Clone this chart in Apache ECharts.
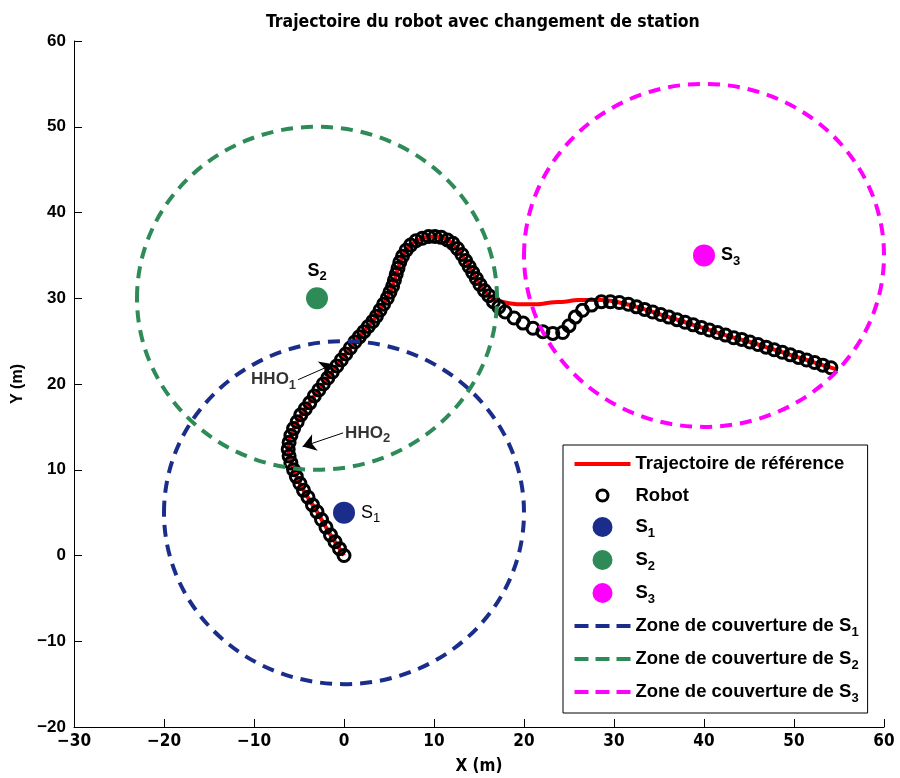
<!DOCTYPE html>
<html>
<head>
<meta charset="utf-8">
<script src="https://cdn.jsdelivr.net/npm/echarts@6/dist/echarts.min.js"></script>
<style>
  html, body { margin: 0; padding: 0; background: #fff; }
  #chart { width: 900px; height: 778px; }
</style>
</head>
<body>
<div id="chart"></div>
<script>
// trajectoire de référence (x, y en m)
const refPath = [[0,0],[-1.5,2.4],[-3.0,5.1],[-4.5,7.6],[-5.6,10.0],[-6.2,12.4],[-5.9,14.0],[-5.2,15.6],
  [-4.3,17.1],[-3.3,18.6],[-2.3,20.0],[-1.3,21.4],[-0.3,22.8],[0.7,24.2],[1.7,25.5],[2.7,26.7],[3.6,27.9],
  [4.4,29.3],[5.1,30.7],[5.6,32.1],[6.0,33.5],[6.5,34.9],[7.4,36.2],[8.7,37.0],[10.1,37.2],[11.5,36.8],
  [12.6,35.8],[13.5,34.4],[14.3,33.0],[15.1,31.6],[16.1,30.3],[17.2,29.7],[18.5,29.4],[20.0,29.3],[21.5,29.3],
  [23.0,29.5],[24.5,29.6],[26.0,29.8],[27.5,29.8],[28.6,29.8],[29.6,29.7],[30.6,29.5],[32.5,29.0],[34.3,28.4],
  [36.1,27.8],[37.9,27.2],[39.7,26.6],[41.5,26.0],[43.3,25.4],[45.1,24.9],[46.9,24.3],[48.7,23.7],[50.5,23.1],
  [52.3,22.5],[54.1,21.9],[54.7,21.7]];

// positions mesurées du robot
const robotPath = [[0,0],[-0.5,0.8],[-1.0,1.6],[-1.5,2.4],[-2.0,3.3],[-2.5,4.2],[-3.0,5.1],[-3.5,5.9],
  [-4.0,6.8],[-4.5,7.6],[-4.9,8.4],[-5.3,9.2],[-5.6,10.0],[-5.9,10.8],[-6.1,11.6],[-6.2,12.4],
  [-6.1,13.2],[-5.9,14.0],[-5.6,14.8],[-5.2,15.6],[-4.8,16.4],[-4.3,17.1],[-3.8,17.8],[-3.3,18.6],
  [-2.8,19.3],[-2.3,20.0],[-1.8,20.7],[-1.3,21.4],[-0.8,22.1],[-0.3,22.8],[0.2,23.5],[0.7,24.2],
  [1.2,24.9],[1.7,25.5],[2.2,26.1],[2.7,26.7],[3.2,27.3],[3.6,27.9],[4.0,28.6],[4.4,29.3],[4.8,30.0],
  [5.1,30.7],[5.4,31.4],[5.6,32.1],[5.8,32.8],[6.0,33.5],[6.2,34.2],[6.5,34.9],[6.9,35.6],[7.4,36.2],
  [8.0,36.7],[8.7,37.0],[9.4,37.2],[10.1,37.2],[10.8,37.1],[11.5,36.8],[12.1,36.4],[12.6,35.8],
  [13.1,35.1],[13.5,34.4],[13.9,33.7],[14.3,33.0],[14.7,32.3],[15.1,31.6],[15.6,30.9],[16.1,30.3],
  [16.6,29.6],[17.2,29.0],[17.9,28.4],[18.9,27.7],[19.9,27.1],[21.0,26.5],[22.1,26.1],[23.2,25.9],
  [24.3,26.0],[25.0,26.8],[25.7,27.8],[26.5,28.6],[27.5,29.2],[28.6,29.6],[29.6,29.6],[30.6,29.5],
  [31.6,29.3],[32.5,29.0],[33.4,28.7],[34.3,28.4],[35.2,28.1],[36.1,27.8],[37.0,27.5],[37.9,27.2],
  [38.8,26.9],[39.7,26.6],[40.6,26.3],[41.5,26.0],[42.4,25.7],[43.3,25.4],[44.2,25.2],[45.1,24.9],
  [46.0,24.6],[46.9,24.3],[47.8,24.0],[48.7,23.7],[49.6,23.4],[50.5,23.1],[51.4,22.8],[52.3,22.5],
  [53.2,22.2],[54.1,21.9]];

// stations et zones de couverture
const stationNames = ['S1', 'S2', 'S3'];
const stationX = [0, -3, 40];
const stationY = [5, 30, 35];
const coverRadius = [20, 20, 20];
const stationColors = ['#1b2d8a', '#2e8b57', '#ff00ff'];

// flèches HHO : [début, fin]
const hho1 = [[-5.1, 20.5], [-1.2, 22.3]];
const hho2 = [[-0.1, 14.3], [-4.6, 12.7]];

const narrow = "'Liberation Sans Narrow', 'DejaVu Sans Condensed', Arial, sans-serif";
const wide = "'Liberation Sans', Arial, sans-serif";

function subName(name) {
  return name.replace(/S(\d)$/, 'S{sub|$1}');
}
function minus(v) {
  return v < 0 ? '\u2212' + Math.abs(v) : String(v);
}

const chart = echarts.init(document.getElementById('chart'));

let series = [];
series.push({
  name: 'Trajectoire de référence',
  type: 'line',
  data: refPath,
  showSymbol: false,
  smooth: 0.3,
  lineStyle: { color: '#ff0000', width: 4 },
  itemStyle: { color: '#ff0000' },
  z: 2
});
series.push({
  name: 'Robot',
  type: 'scatter',
  data: robotPath,
  symbol: 'circle',
  symbolSize: 12,
  itemStyle: { color: 'rgba(0,0,0,0)', borderColor: '#000', borderWidth: 3, opacity: 1 },
  z: 3
});
for (let i = 0; i < stationNames.length; i++) {
  let labelPos = i === 1 ? 'top' : 'right';
  series.push({
    name: stationNames[i],
    type: 'scatter',
    data: [[stationX[i], stationY[i]]],
    symbolSize: 22,
    itemStyle: { color: stationColors[i], opacity: 1 },
    label: {
      show: true,
      position: labelPos,
      distance: i === 1 ? 4 : 6,
      formatter: subName(stationNames[i]),
      color: '#000',
      fontFamily: wide,
      fontSize: 18,
      fontWeight: i === 0 ? 'normal' : 'bold',
      rich: { sub: { fontSize: 13, fontFamily: wide, fontWeight: i === 0 ? 'normal' : 'bold', padding: [12, 0, 0, 0] } }
    },
    z: 4
  });
}
for (let i = 0; i < stationNames.length; i++) {
  series.push({
    name: 'Zone de couverture de ' + stationNames[i],
    type: 'custom',
    data: [[stationX[i], stationY[i], coverRadius[i]]],
    itemStyle: { color: stationColors[i] },
    renderItem: function (params, api) {
      const c = api.coord([api.value(0), api.value(1)]);
      const s = api.size([api.value(2), api.value(2)]);
      return {
        type: 'ellipse',
        shape: { cx: c[0], cy: c[1], rx: s[0], ry: s[1] },
        style: { fill: null, stroke: stationColors[i], lineWidth: 4, lineDash: [12, 8] }
      };
    },
    z: 5
  });
}
// annotations HHO
series.push({
  name: 'hho',
  type: 'line',
  data: [],
  silent: true,
  markLine: {
    silent: true,
    animation: false,
    symbol: ['none', 'arrow'],
    symbolSize: 13,
    label: { show: false },
    itemStyle: { color: '#000' },
    lineStyle: { color: '#000', width: 1, type: 'solid', opacity: 1 },
    data: [
      [{ coord: hho1[0] }, { coord: hho1[1] }],
      [{ coord: hho2[0] }, { coord: hho2[1] }]
    ]
  },
  z: 6
});
const hhoRich = { sub: { fontSize: 13, fontWeight: 'bold', fontFamily: wide, padding: [12, 0, 0, 0] } };
series.push({
  name: 'hhoText',
  type: 'scatter',
  silent: true,
  symbolSize: 0,
  data: [
    { value: hho1[0], label: { show: true, position: 'left', distance: 2, formatter: 'HHO{sub|1}' } },
    { value: hho2[0], label: { show: true, position: 'right', distance: 2, formatter: 'HHO{sub|2}' } }
  ],
  label: { color: '#000', fontSize: 17, fontWeight: 'bold', fontFamily: wide, rich: hhoRich },
  z: 6
});

const lineIcon = 'path://M0,0M56,20M0,8h56v4h-56z';
const dashIcon = 'path://M0,0M56,20M0,8h14v4h-14zM21,8h14v4h-14zM42,8h14v4h-14z';
const ringIcon = 'path://M0,0M56,20M22.5,10a5.5,5.5 0 1,0 11,0a5.5,5.5 0 1,0 -11,0z';

let legendData = [
  { name: 'Trajectoire de référence', icon: lineIcon, itemStyle: { color: '#ff0000' } },
  { name: 'Robot', icon: ringIcon, itemStyle: { color: 'rgba(0,0,0,0)', borderColor: '#000', borderWidth: 3 } }
];
stationNames.forEach(function (n, i) {
  legendData.push({ name: n, icon: 'circle', itemStyle: { color: stationColors[i], opacity: 1 } });
});
stationNames.forEach(function (n, i) {
  legendData.push({ name: 'Zone de couverture de ' + n, icon: dashIcon, itemStyle: { color: stationColors[i] } });
});

const option = {
  animation: false,
  backgroundColor: '#fff',
  title: {
    text: 'Trajectoire du robot avec changement de station',
    left: 261,
    top: 8,
    textStyle: { fontFamily: narrow, fontSize: 17.5, fontWeight: 'bold', color: '#000' }
  },
  tooltip: { show: false },
  legend: {
    orient: 'vertical',
    left: 563,
    top: 445,
    padding: [9, 9, 8, 10],
    itemWidth: 56,
    itemHeight: 20,
    itemGap: 10,
    selectedMode: false,
    borderColor: '#000',
    borderWidth: 1,
    backgroundColor: '#fff',
    data: legendData,
    formatter: subName,
    textStyle: {
      color: '#000',
      fontFamily: wide,
      fontSize: 18.5,
      fontWeight: 'bold',
      rich: { sub: { fontSize: 13, fontWeight: 'bold', fontFamily: wide, padding: [13, 0, 0, 0] } }
    }
  },
  grid: { left: 74, right: 16, top: 41, bottom: 51, outerBoundsMode: 'none', containLabel: false },
  xAxis: {
    type: 'value',
    min: -30,
    max: 60,
    interval: 10,
    name: 'X (m)',
    nameLocation: 'middle',
    nameGap: 31,
    nameTextStyle: { fontFamily: narrow, fontSize: 17, fontWeight: 'bold', color: '#000' },
    axisLine: { onZero: false, lineStyle: { color: '#000', width: 1 } },
    axisTick: { inside: true, length: 8, lineStyle: { color: '#000' } },
    axisLabel: { formatter: minus, color: '#000', fontFamily: narrow, fontSize: 17, fontWeight: 'bold', margin: 6 },
    splitLine: { show: false }
  },
  yAxis: {
    type: 'value',
    min: -20,
    max: 60,
    interval: 10,
    name: 'Y (m)',
    nameLocation: 'middle',
    nameGap: 48,
    nameRotate: 90,
    nameTextStyle: { fontFamily: wide, fontSize: 16, fontWeight: 'bold', color: '#000' },
    axisLine: { onZero: false, lineStyle: { color: '#000', width: 1 } },
    axisTick: { inside: true, length: 8, lineStyle: { color: '#000' } },
    axisLabel: { formatter: minus, color: '#000', fontFamily: wide, fontSize: 17, fontWeight: 'bold', margin: 8 },
    splitLine: { show: false }
  },
  series: series
};

chart.setOption(option);
</script>
</body>
</html>
